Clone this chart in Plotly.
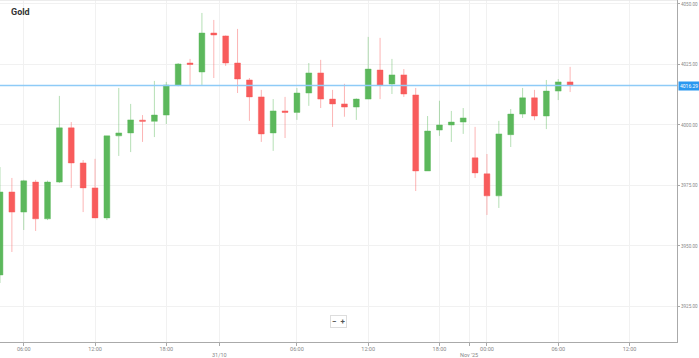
import plotly.graph_objects as go

# Hourly Gold candles (index = hour slot on the chart)
opens  = [3938.0, 3972.3, 3964.0, 3976.4, 3961.2, 3976.4, 3998.8, 3984.3, 3974.0, 3961.6,
          3995.5, 3996.7, 4002.0, 4001.5, 4004.1, 4016.5, 4025.6, 4021.9, 4038.0, 4036.8,
          4025.6, 4018.6, 4011.6, 3996.7, 4005.8, 4005.2, 4013.2, 4021.5, 4010.7, 4008.7,
          4007.4, 4010.7, 4022.7, 4016.9, 4020.7, 4012.4, 3981.0, 3997.9, 4000.0, 4001.2,
          3986.4, 3979.8, 3970.7, 3996.0, 4004.5, 4011.2, 4003.7, 4014.0, 4017.8]
highs  = [3982.6, 3978.1, 3977.3, 3977.3, 3977.0, 4012.0, 4001.2, 3985.5, 3986.0, 3995.5,
          4015.3, 4008.7, 4004.1, 4018.2, 4017.8, 4025.6, 4027.3, 4046.3, 4043.4, 4037.0,
          4039.7, 4019.4, 4014.5, 4010.7, 4011.6, 4015.3, 4025.6, 4026.9, 4014.5, 4017.0,
          4011.0, 4036.4, 4036.0, 4027.3, 4023.1, 4015.3, 4003.7, 4010.0, 4005.8, 4007.0,
          3999.2, 3988.0, 4001.7, 4006.6, 4015.3, 4014.5, 4018.6, 4019.0, 4024.0]
lows   = [3934.7, 3947.5, 3956.6, 3956.2, 3960.7, 3976.0, 3974.0, 3964.0, 3961.5, 3960.7,
          3987.2, 3988.8, 3993.0, 3995.0, 4000.4, 4016.0, 4016.5, 4016.5, 4019.4, 4024.4,
          4013.2, 4001.7, 3993.0, 3989.3, 3994.6, 4002.1, 4007.9, 4007.0, 3999.2, 4003.4,
          4002.1, 4011.2, 4010.7, 4012.8, 4011.6, 3972.7, 3981.0, 3995.5, 3993.0, 3996.3,
          3978.1, 3962.8, 3965.7, 3990.9, 4002.9, 4002.0, 3998.3, 4010.3, 4013.6]
closes = [3972.3, 3964.0, 3976.9, 3961.2, 3976.4, 3998.8, 3984.3, 3974.0, 3961.6, 3995.5,
          3996.7, 4002.1, 4001.5, 4004.1, 4016.5, 4025.2, 4025.0, 4038.0, 4037.2, 4025.6,
          4019.0, 4011.6, 3996.3, 4005.8, 4005.2, 4013.2, 4021.5, 4010.7, 4008.7, 4007.4,
          4010.7, 4023.1, 4016.5, 4020.7, 4012.8, 3981.0, 3997.5, 4000.0, 4001.2, 4002.9,
          3980.2, 3970.7, 3996.3, 4004.5, 4011.2, 4003.7, 4014.0, 4017.8, 4016.29]
slots = list(range(len(opens)))

last_price = 4016.29
y_ticks = [3925, 3950, 3975, 4000, 4025, 4050]
hour_tick_slots = [2, 8, 14, 25, 31, 37, 41, 47, 53]
hour_tick_labels = ["06:00", "12:00", "18:00", "06:00", "12:00", "18:00", "00:00", "06:00", "12:00"]
date_tick_slots = [18.45, 39.5]
date_tick_labels = ["31/10", "Nov '25"]

GREEN = "#5cb85c"
RED = "#f85c5c"

fig = go.Figure()
fig.add_trace(go.Candlestick(
    x=slots, open=opens, high=highs, low=lows, close=closes,
    increasing=dict(fillcolor=GREEN, line=dict(color="rgba(92,184,92,0.45)", width=1)),
    decreasing=dict(fillcolor=RED, line=dict(color="rgba(248,92,92,0.45)", width=1)),
    showlegend=False, hoverinfo="skip",
))

fig.add_shape(type="line", xref="paper", x0=0, x1=1, yref="y", y0=last_price, y1=last_price,
              line=dict(color="#8ecbf7", width=1.5), layer="above")
fig.add_shape(type="line", xref="paper", x0=0, x1=1, yref="paper", y0=1, y1=1,
              line=dict(color="#e6e6e6", width=1.5))

for s, lab in zip(date_tick_slots, date_tick_labels):
    fig.add_annotation(xref="x", yref="paper", x=s, y=0, yanchor="top", xanchor="center",
                       yshift=-8, text=lab, showarrow=False,
                       font=dict(family="Roboto", size=5.5, color="#888888"))

fig.add_annotation(xref="paper", yref="y", x=1, y=last_price, xanchor="left", yanchor="middle",
                   xshift=1, text=str(last_price), showarrow=False,
                   font=dict(family="Roboto", size=5, color="white"),
                   bgcolor="#2a98f0", borderpad=1)
fig.add_annotation(xref="paper", yref="paper", x=0.0135, y=0.965, xanchor="left", yanchor="middle",
                   text="<b>Gold</b>", showarrow=False,
                   font=dict(family="Roboto", size=9, color="#333333"))
fig.add_annotation(xref="paper", yref="paper", x=0.4993, y=0.061, xanchor="center", yanchor="middle",
                   text="<b>−  +</b>", showarrow=False,
                   font=dict(family="Roboto", size=8, color="#555555"),
                   bgcolor="white", bordercolor="#dddddd", borderwidth=1, borderpad=1)

fig.update_layout(
    width=699, height=358,
    margin=dict(l=0, r=22, t=0, b=16, autoexpand=False),
    paper_bgcolor="white", plot_bgcolor="white",
    font=dict(family="Roboto", size=6, color="#888888"),
    xaxis=dict(
        range=[0, 57.0], rangeslider=dict(visible=False), automargin=False,
        tickmode="array", tickvals=hour_tick_slots + date_tick_slots,
        ticktext=hour_tick_labels + ["", ""], tickangle=0,
        showgrid=True, gridcolor="#f1f1f1", gridwidth=1,
        showline=True, linecolor="#aaaaaa", linewidth=1,
        ticks="outside", ticklen=3, tickcolor="#aaaaaa", ticklabelstandoff=-2,
        tickfont=dict(size=5.5, color="#888888"), zeroline=False, fixedrange=True,
    ),
    yaxis=dict(
        range=[3910.3, 4051.65], side="right", automargin=False,
        tickmode="array", tickvals=y_ticks, tickformat=".2f",
        showgrid=True, gridcolor="#f1f1f1", gridwidth=1,
        showline=True, linecolor="#aaaaaa", linewidth=1,
        ticks="outside", ticklen=2, tickcolor="#aaaaaa",
        tickfont=dict(size=4.6, color="#888888"), zeroline=False,
    ),
)

fig.write_html("out.html", config={"displayModeBar": False},
               post_script="document.body.style.margin='0';document.body.style.overflow='hidden';")
